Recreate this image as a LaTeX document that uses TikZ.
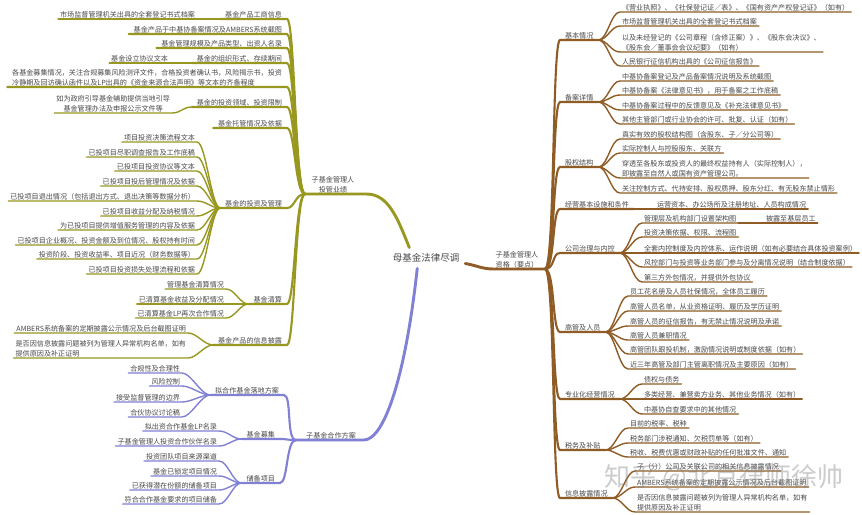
\documentclass[tikz,border=0pt]{standalone}
\usepackage{fontspec}
\setmainfont{Noto Sans CJK SC}
\definecolor{olv}{RGB}{152,152,32}
\definecolor{ppl}{RGB}{128,128,212}
\definecolor{brn}{RGB}{142,92,36}
\definecolor{txc}{RGB}{72,72,72}
\tikzset{
 tx/.style={font=\fontsize{7.1}{10}\selectfont, text=txc, inner xsep=2pt, inner ysep=1pt, outer sep=0pt},
 rl/.style={tx, anchor=south west, align=left},
 ll/.style={tx, anchor=south east, align=left},
 rs/.style={tx, anchor=south west, inner xsep=5pt},
 ls/.style={tx, anchor=south east, inner xsep=5pt, align=left},
 lw/.style={line width=1.4pt, line cap=round},
 sw/.style={line width=2.1pt, line cap=round},
 mw/.style={line width=2.9pt, line cap=round},
}
\newcommand\rleaf[5]{\node[rl] (#3) at (#4) {#5};
 \draw[#1,lw] (#2) .. controls +(9,0) and +(-9,0) .. (#3.south west) -- (#3.south east);}
\newcommand\lleaf[5]{\node[ll] (#3) at (#4) {#5};
 \draw[#1,lw] (#2) .. controls +(-9,0) and +(9,0) .. (#3.south east) -- (#3.south west);}
\newcommand\rsub[3]{\node[rs] (#1) at (#2) {#3};
 \draw[brn,sw] (Jb) .. controls +(10,0) and +(-8,0) .. (#1.south west) -- (#1.south east);}
\newcommand\lsub[4]{\node[ls] (#2) at (#3) {#4};
 \draw[#1,sw] (J#1) .. controls +(-10,0) and +(8,0) .. (#2.south east) -- (#2.south west);}
\begin{document}
\begin{tikzpicture}[x=1pt,y=-1pt]
\useasboundingbox (0,0) rectangle (862,514);
\fill[white] (0,0) rectangle (862,514);

% centre and main branches
\node[tx, font=\fontsize{9.5}{11}\selectfont, inner xsep=6pt, inner ysep=6pt] (cen) at (426,258) {母基金法律尽调};
\node[tx, anchor=south, align=center] (mo) at (333,194) {子基金管理人\\投管业绩};
\node[tx, anchor=south] (mp) at (331,440) {子基金合作方案};
\node[tx, anchor=south, align=center] (mb) at (517,269) {子基金管理人\\资格（要点）};
\coordinate (Jolv) at (305,194);
\coordinate (Jppl) at (296,440);
\coordinate (Jb) at (545,269);
\draw[olv,mw] (cen.148) .. controls +(-12,-30) and +(22,0) .. ([xshift=10pt]mo.south east) -- (Jolv);
\draw[ppl,mw] (cen.230) .. controls +(-12,110) and +(20,0) .. ([xshift=6pt]mp.south east) -- (Jppl);
\draw[brn,mw] (cen.-8) .. controls +(12,2) and +(-12,0) .. (mb.south west) -- (Jb);

% ---------- right side (brown) ----------
\rsub{s1}{560,40}{基本情况}
\rleaf{brn}{s1.south east}{a1}{620,12}{《营业执照》、《社保登记证／表》、《国有资产产权登记证》（如有）}
\rleaf{brn}{s1.south east}{a2}{620,26}{市场监督管理机关出具的全套登记书式档案}
\rleaf{brn}{s1.south east}{a3}{620,52}{以及未经登记的《公司章程（含修正案）》、《股东会决议》、\\《股东会／董事会会议纪要》（如有）}
\rleaf{brn}{s1.south east}{a4}{620,66}{人民银行征信机构出具的《公司征信报告》}

\rsub{s2}{560,102}{备案详情}
\rleaf{brn}{s2.south east}{b1}{620,81}{中基协备案登记及产品备案情况说明及系统截图}
\rleaf{brn}{s2.south east}{b2}{620,95}{中基协备案《法律意见书》，用于备案之工作底稿}
\rleaf{brn}{s2.south east}{b3}{620,110}{中基协备案过程中的反馈意见及《补充法律意见书》}
\rleaf{brn}{s2.south east}{b4}{620,124}{其他主管部门或行业协会的许可、批复、认证（如有）}

\rsub{s3}{560,167}{股权结构}
\rleaf{brn}{s3.south east}{c1}{620,139}{真实有效的股权结构图（含股东、子／分公司等）}
\rleaf{brn}{s3.south east}{c2}{620,153}{实际控制人与控股股东、关联方}
\rleaf{brn}{s3.south east}{c3}{620,178}{穿透至各股东或投资人的最终权益持有人（实际控制人），\\即披露至自然人或国有资产管理公司。}
\rleaf{brn}{s3.south east}{c4}{620,193}{关注控制方式、代持安排、股权质押、股东分红、有无股东禁止情形}

\rsub{s4}{560,209}{经营基本设施和条件}
\node[rl] (d1) at (655,209) {运营资本、办公场所及注册地址、人员构成情况};
\draw[brn,lw] (s4.south east) -- (d1.south east);

\rsub{s5}{560,253}{公司治理与内控}
\rleaf{brn}{s5.south east}{e1}{642,223}{管理层及机构部门设置架构图}
\node[rl] (e1b) at (764,223) {披露至基层员工};
\draw[brn,lw] (e1.south east) -- (e1b.south east);
\rleaf{brn}{s5.south east}{e2}{642,237}{投资决策依据、权限、流程图}
\rleaf{brn}{s5.south east}{e3}{642,253}{全套内控制度及内控体系、运作说明（如有必要结合具体投资案例）}
\rleaf{brn}{s5.south east}{e4}{642,267}{风控部门与投资等业务部门参与及分离情况说明（结合制度依据）}
\rleaf{brn}{s5.south east}{e5}{642,282}{第三方外包情况，并提供外包协议}

\rsub{s6}{560,332}{高管及人员}
\rleaf{brn}{s6.south east}{f1}{628,296}{员工花名册及人员社保情况，全体员工履历}
\rleaf{brn}{s6.south east}{f2}{628,311}{高管人员名单，从业资格证明、履历及学历证明}
\rleaf{brn}{s6.south east}{f3}{628,326}{高管人员的征信报告，有无禁止情况说明及承诺}
\rleaf{brn}{s6.south east}{f4}{628,340}{高管人员兼职情况}
\rleaf{brn}{s6.south east}{f5}{628,354}{高管团队跟投机制，激励情况说明或制度依据（如有）}
\rleaf{brn}{s6.south east}{f6}{628,369}{近三年高管及部门主管离职情况及主要原因（如有）}

\rsub{s7}{560,399}{专业化经营情况}
\rleaf{brn}{s7.south east}{g1}{642,384}{债权与债务}
\rleaf{brn}{s7.south east}{g2}{642,399}{多类经营、兼营卖方业务、其他业务情况（如有）}
\rleaf{brn}{s7.south east}{g3}{642,414}{中基协自查要求中的其他情况}

\rsub{s8}{560,450}{税务及补贴}
\rleaf{brn}{s8.south east}{h1}{628,428}{目前的税率、税种}
\rleaf{brn}{s8.south east}{h2}{628,443}{税务部门涉税通知、欠税罚单等（如有）}
\rleaf{brn}{s8.south east}{h3}{628,457}{税收、税费优惠或财政补贴的任何批准文件、通知}

\rsub{s9}{560,498}{信息披露情况}
\rleaf{brn}{s9.south east}{i1}{635,471}{子（分）公司及关联公司的相关信息披露情况}
\rleaf{brn}{s9.south east}{i2}{635,487}{AMBERS系统备案的定期披露公示情况及后台截图证明}
\rleaf{brn}{s9.south east}{i3}{635,512}{是否因信息披露问题被列为管理人异常机构名单，如有\\提供原因及补正证明}

% ---------- left side (olive) ----------
\lsub{olv}{o1}{287,19}{基金产品工商信息}
\node[ll] (ol1) at (197,19) {市场监督管理机关出具的全套登记书式档案};
\draw[olv,lw] (o1.south west) -- (ol1.south west);
\lsub{olv}{o2}{287,34}{基金产品于中基协备案情况及AMBERS系统截图}
\lsub{olv}{o3}{287,48}{基金管理规模及产品类型、出资人名录}
\lsub{olv}{o4}{287,63}{基金的组织形式、存续期间}
\node[ll] (ol4) at (170,63) {基金设立协议文本};
\draw[olv,lw] (o4.south west) -- (ol4.south west);
\lsub{olv}{o5}{287,87}{各基金募集情况，关注合规募集风险测评文件，合格投资者确认书，风险揭示书，投资\\冷静期及回访确认函件以及LP出具的《资金来源合法声明》等文本的齐备程度}
\lsub{olv}{o6}{287,107}{基金的投资领域、投资限制}
\node[ll, align=center] (ol6) at (172,113) {如为政府引导基金辅助提供当地引导\\基金管理办法及申报公示文件等};
\draw[olv,lw] (o6.south west) .. controls +(-9,0) and +(9,0) .. (ol6.south east) -- (ol6.south west);
\lsub{olv}{o7}{287,128}{基金托管情况及依据}
\lsub{olv}{o8}{287,208}{基金的投资及管理}
\lleaf{olv}{o8.south west}{m1}{197,142}{项目投资决策流程文本}
\lleaf{olv}{o8.south west}{m2}{197,157}{已投项目尽职调查报告及工作底稿}
\lleaf{olv}{o8.south west}{m3}{197,171}{已投项目投资协议等文本}
\lleaf{olv}{o8.south west}{m4}{197,186}{已投项目投后管理情况及依据}
\lleaf{olv}{o8.south west}{m5}{197,201}{已投项目退出情况（包括退出方式、退出决策等数据分析）}
\lleaf{olv}{o8.south west}{m6}{197,216}{已投项目收益分配及纳税情况}
\lleaf{olv}{o8.south west}{m7}{197,230}{为已投项目提供增值服务管理的内容及依据}
\lleaf{olv}{o8.south west}{m8}{197,245}{已投项目企业概况、投资金额及到位情况、股权持有时间}
\lleaf{olv}{o8.south west}{m9}{197,259}{投资阶段、投资收益率、项目近况（财务数据等）}
\lleaf{olv}{o8.south west}{m10}{197,274}{已投项目投资损失处理流程和依据}
\lsub{olv}{o9}{287,304}{基金清算}
\lleaf{olv}{o9.south west}{q1}{226,289}{管理基金清算情况}
\lleaf{olv}{o9.south west}{q2}{226,304}{已清算基金收益及分配情况}
\lleaf{olv}{o9.south west}{q3}{226,318}{已清算基金LP再次合作情况}
\lsub{olv}{o10}{287,345}{基金产品的信息披露}
\lleaf{olv}{o10.south west}{r1}{188,333}{AMBERS系统备案的定期披露公示情况及后台截图证明}
\lleaf{olv}{o10.south west}{r2}{188,358}{是否因信息披露问题被列为管理人异常机构名单，如有\\提供原因及补正证明}

% ---------- left side (purple) ----------
\lsub{ppl}{p1}{284,395}{拟合作基金落地方案}
\lleaf{ppl}{p1.south west}{u1}{182,373}{合规性及合理性}
\lleaf{ppl}{p1.south west}{u2}{182,386}{风险控制}
\lleaf{ppl}{p1.south west}{u3}{182,402}{接受监督管理的边界}
\lleaf{ppl}{p1.south west}{u4}{182,417}{合伙协议讨论稿}
\lsub{ppl}{p2}{280,439}{基金募集}
\lleaf{ppl}{p2.south west}{v1}{219,431}{拟出资合作基金LP名录}
\lleaf{ppl}{p2.south west}{v2}{219,446}{子基金管理人投资合作伙伴名录}
\lsub{ppl}{p3}{280,483}{储备项目}
\lleaf{ppl}{p3.south west}{w1}{219,461}{投资团队项目来源渠道}
\lleaf{ppl}{p3.south west}{w2}{219,476}{基金已锁定项目情况}
\lleaf{ppl}{p3.south west}{w3}{219,490}{已获得潜在份额的储备项目}
\lleaf{ppl}{p3.south west}{w4}{219,504}{符合合作基金要求的项目储备}

% watermark
\node[font=\fontsize{26}{26}\selectfont, text=gray, opacity=0.4, inner sep=0pt] (wm) at (724,478) {知乎 @北京律师徐帅};
\end{tikzpicture}
\end{document}
